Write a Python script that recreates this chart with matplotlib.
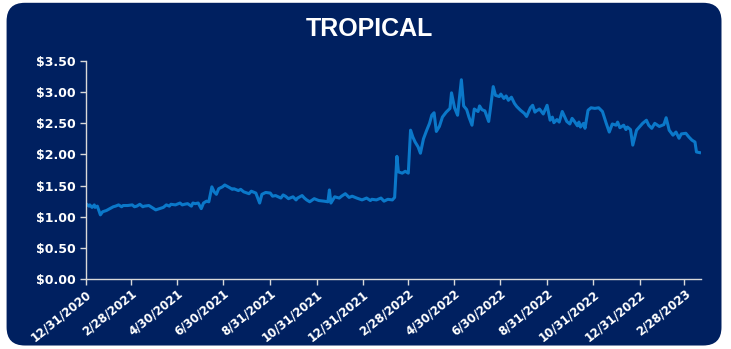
import matplotlib
matplotlib.use("Agg")
import matplotlib.pyplot as plt
from matplotlib.patches import FancyBboxPatch
from matplotlib.ticker import FuncFormatter
import pandas as pd

# price series (date, $)
dates_2021 = ["01-01", "01-04", "01-05", "01-08", "01-11", "01-12", "01-15", "01-19",
              "01-22", "01-27", "02-02", "02-05", "02-08", "02-12", "02-16", "02-18",
              "02-24", "03-02", "03-05", "03-08", "03-12", "03-16", "03-18", "03-24",
              "03-29", "04-02", "04-07", "04-12", "04-16", "04-20", "04-22", "04-28",
              "05-04", "05-07", "05-10", "05-14", "05-19", "05-21", "05-24", "05-28",
              "06-01", "06-04", "06-08", "06-11", "06-15", "06-18", "06-21", "06-24",
              "06-29", "07-02", "07-08", "07-12", "07-14", "07-20", "07-23", "07-27",
              "08-03", "08-06", "08-12", "08-17", "08-20", "08-25", "08-31", "09-03",
              "09-07", "09-14", "09-17", "09-20", "09-24", "09-30", "10-04", "10-06",
              "10-12", "10-15", "10-18", "10-22", "10-28", "11-03", "11-10", "11-15",
              "11-17", "11-19", "11-24", "11-30", "12-03", "12-08", "12-13", "12-17",
              "12-23", "12-30"]
vals_2021 = [1.20, 1.17, 1.19, 1.15, 1.19, 1.15, 1.17, 1.03,
             1.08, 1.10, 1.14, 1.16, 1.17, 1.19, 1.16, 1.18,
             1.18, 1.19, 1.16, 1.17, 1.20, 1.16, 1.17, 1.18,
             1.14, 1.11, 1.13, 1.15, 1.19, 1.17, 1.20, 1.19,
             1.22, 1.19, 1.20, 1.21, 1.17, 1.22, 1.21, 1.22,
             1.13, 1.22, 1.25, 1.24, 1.48, 1.40, 1.36, 1.45,
             1.48, 1.51, 1.47, 1.44, 1.45, 1.42, 1.44, 1.40,
             1.37, 1.41, 1.38, 1.22, 1.36, 1.39, 1.38, 1.33,
             1.34, 1.30, 1.35, 1.33, 1.29, 1.32, 1.27, 1.30,
             1.34, 1.30, 1.27, 1.24, 1.29, 1.26, 1.25, 1.24,
             1.43, 1.22, 1.32, 1.30, 1.33, 1.37, 1.31, 1.33,
             1.30, 1.27]

dates_2022 = ["01-05", "01-10", "01-12", "01-18", "01-24", "01-28", "02-02", "02-08",
              "02-11", "02-14", "02-16", "02-21", "02-25", "03-01", "03-04", "03-07",
              "03-10", "03-14", "03-17", "03-21", "03-25", "03-29", "04-01", "04-04",
              "04-07", "04-11", "04-15", "04-20", "04-25", "04-27", "05-01", "05-05",
              "05-10", "05-13", "05-17", "05-20", "05-24", "05-27", "06-01", "06-03",
              "06-06", "06-10", "06-15", "06-17", "06-21", "06-24", "06-29", "07-01",
              "07-05", "07-08", "07-11", "07-15", "07-19", "07-22", "07-27", "08-01",
              "08-04", "08-09", "08-12", "08-15", "08-17", "08-21", "08-26", "08-31",
              "09-04", "09-07", "09-09", "09-13", "09-16", "09-20", "09-26", "09-30",
              "10-03", "10-05", "10-10", "10-12", "10-14", "10-18", "10-20", "10-24",
              "10-28", "11-02", "11-07", "11-12", "11-17", "11-21", "11-25", "11-30",
              "12-02", "12-05", "12-10", "12-13", "12-15", "12-19", "12-22", "12-27"]
vals_2022 = [1.30, 1.26, 1.28, 1.27, 1.30, 1.25, 1.28, 1.27,
             1.31, 1.97, 1.72, 1.70, 1.73, 1.70, 2.39, 2.28,
             2.20, 2.12, 2.02, 2.25, 2.38, 2.50, 2.63, 2.67,
             2.37, 2.45, 2.60, 2.68, 2.74, 2.99, 2.75, 2.63,
             3.20, 2.78, 2.72, 2.60, 2.47, 2.73, 2.69, 2.78,
             2.72, 2.70, 2.53, 2.71, 3.09, 2.95, 2.93, 2.97,
             2.90, 2.94, 2.87, 2.92, 2.82, 2.77, 2.71, 2.66,
             2.61, 2.75, 2.79, 2.68, 2.70, 2.73, 2.65, 2.79,
             2.55, 2.60, 2.51, 2.56, 2.52, 2.69, 2.53, 2.49,
             2.58, 2.55, 2.46, 2.52, 2.44, 2.50, 2.42, 2.71,
             2.75, 2.74, 2.75, 2.69, 2.50, 2.36, 2.49, 2.47,
             2.52, 2.43, 2.47, 2.40, 2.44, 2.40, 2.15, 2.39]

dates_2023 = ["01-04", "01-09", "01-12", "01-16", "01-20", "01-26", "02-01", "02-04",
              "02-08", "02-13", "02-17", "02-21", "02-24", "03-02", "03-06", "03-10",
              "03-14", "03-16", "03-20"]
vals_2023 = [2.50, 2.55, 2.47, 2.42, 2.50, 2.45, 2.48, 2.59,
             2.39, 2.31, 2.36, 2.26, 2.33, 2.34, 2.28, 2.23,
             2.20, 2.04, 2.03]

tick_labels = ["12/31/2020", "2/28/2021", "4/30/2021", "6/30/2021", "8/31/2021",
               "10/31/2021", "12/31/2021", "2/28/2022", "4/30/2022", "6/30/2022",
               "8/31/2022", "10/31/2022", "12/31/2022", "2/28/2023"]

dates = ([pd.Timestamp("2021-" + d) for d in dates_2021] +
         [pd.Timestamp("2022-" + d) for d in dates_2022] +
         [pd.Timestamp("2023-" + d) for d in dates_2023])
values = vals_2021 + vals_2022 + vals_2023

navy = "#002060"
fig = plt.figure(figsize=(7.31, 3.49), dpi=100)
fig.patch.set_facecolor("white")

# rounded dark panel behind everything
panel = FancyBboxPatch((0.009, 0.01), 0.978, 0.982,
                       boxstyle="round,pad=0,rounding_size=0.025",
                       transform=fig.transFigure, facecolor=navy,
                       edgecolor="none", mutation_aspect=731 / 349, zorder=-5)
fig.patches.append(panel)

ax = fig.add_axes([0.1176, 0.2006, 0.8414, 0.6244])
ax.set_zorder(2)
ax.patch.set_alpha(0)

ax.plot(dates, values, color="#0b78c9", lw=2.2)

ax.set_ylim(0, 3.5)
ax.set_yticks([0, 0.5, 1.0, 1.5, 2.0, 2.5, 3.0, 3.5])
ax.yaxis.set_major_formatter(FuncFormatter(lambda v, p: "${:.2f}".format(v)))

ticks = [pd.to_datetime(t, format="%m/%d/%Y") for t in tick_labels]
ax.set_xticks(ticks)
ax.set_xticklabels(tick_labels)
ax.set_xlim(pd.Timestamp("2020-12-31"), pd.Timestamp("2023-03-22"))

for s in ["top", "right"]:
    ax.spines[s].set_visible(False)
for s in ["left", "bottom"]:
    ax.spines[s].set_color("#d9d9d9")
    ax.spines[s].set_linewidth(1.0)

ax.tick_params(axis="both", colors="#d9d9d9", length=4, width=1, direction="out")
ax.tick_params(axis="x", pad=2)
for lab in ax.get_yticklabels():
    lab.set_color("white")
    lab.set_fontweight("bold")
    lab.set_fontsize(9)
for lab in ax.get_xticklabels():
    lab.set_color("white")
    lab.set_fontweight("bold")
    lab.set_fontsize(8.5)
    lab.set_rotation(39)
    lab.set_ha("right")
    lab.set_va("top")
    lab.set_rotation_mode("anchor")

fig.text(0.506, 0.918, "TROPICAL", color="white", fontsize=18, fontweight="bold",
         ha="center", va="center", family="Liberation Sans")

fig.savefig("out.png", dpi=100, facecolor="white")
